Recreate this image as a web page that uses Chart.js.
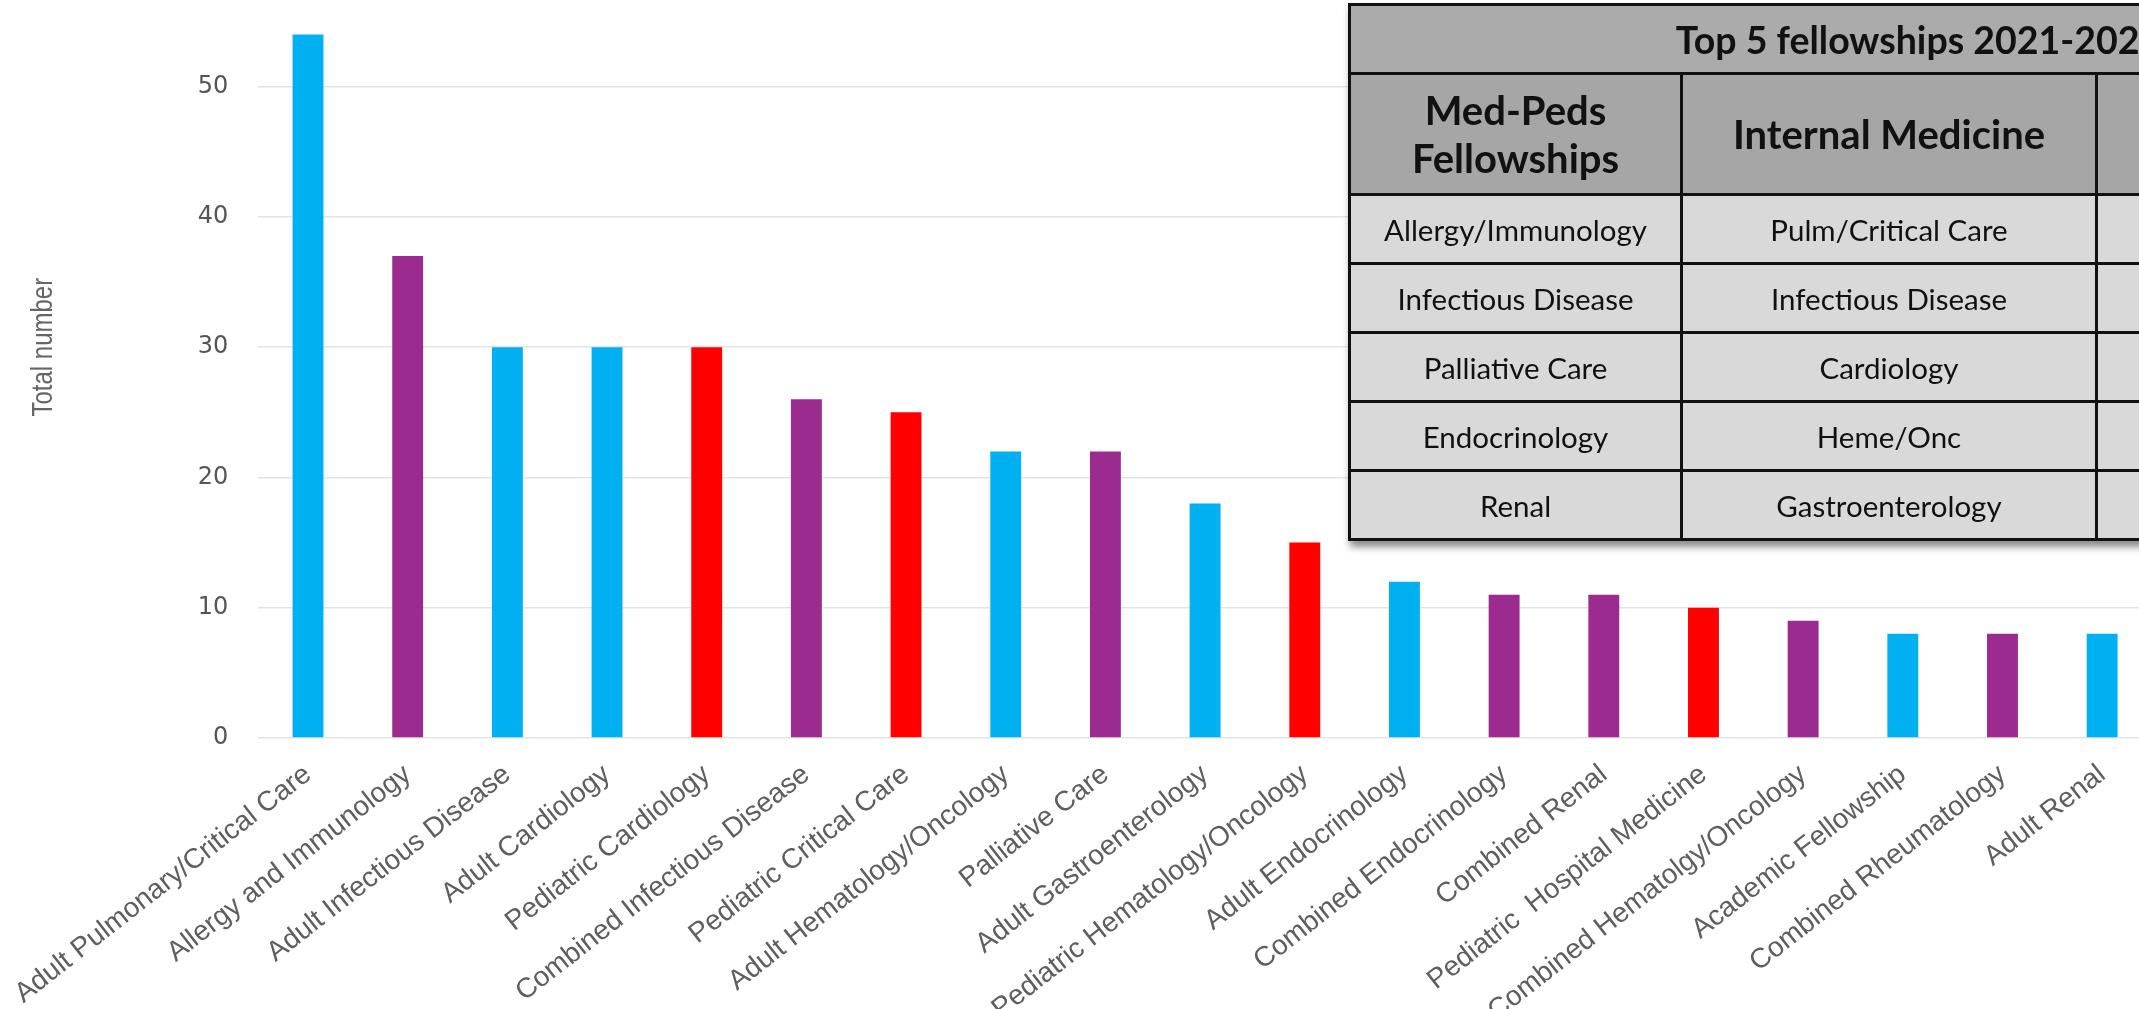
<!DOCTYPE html>
<html>
<head>
<meta charset="utf-8">
<script src="https://cdn.jsdelivr.net/npm/chart.js@4"></script>
<style>
  html, body { margin: 0; padding: 0; background: #fff; overflow: hidden; width: 2139px; height: 1009px; position: relative; }
  #wrap { position: absolute; left: 0; top: -88px; width: 2160px; height: 1106px; }
  #tbl {
    position: absolute; left: 1348px; top: 3px; width: 1138px;
    border-collapse: collapse; table-layout: fixed;
    font-family: Lato, "Open Sans", sans-serif; color: #111;
    box-shadow: 2px 6px 7px rgba(0,0,0,0.45);
  }
  #tbl td, #tbl th { border: 3px solid #111; text-align: center; vertical-align: middle; padding: 0; }
  #tbl .title { background: #ababab; height: 66px; font-size: 37.5px; font-weight: 700; white-space: nowrap; }
  #tbl .head th { background: #a6a6a6; height: 118px; font-size: 40px; font-weight: 700; line-height: 1.2; }
  #tbl .row td { background: #d9d9d9; height: 66px; font-size: 29.5px; }
</style>
</head>
<body>
<div id="wrap"><canvas id="myChart"></canvas></div>
<table id="tbl">
  <colgroup><col style="width:332px"><col style="width:415px"><col style="width:391px"></colgroup>
  <tbody id="tblBody"></tbody>
</table>
<script>
var categories = [
  'Adult Pulmonary/Critical Care', 'Allergy and Immunology', 'Adult Infectious Disease',
  'Adult Cardiology', 'Pediatric Cardiology', 'Combined Infectious Disease',
  'Pediatric Critical Care', 'Adult Hematology/Oncology', 'Palliative Care',
  'Adult Gastroenterology', 'Pediatric Hematology/Oncology', 'Adult Endocrinology',
  'Combined Endocrinology', 'Combined Renal', 'Pediatric  Hospital Medicine',
  'Combined Hematolgy/Oncology', 'Academic Fellowship', 'Combined Rheumatology', 'Adult Renal'
]
var totals = [54, 37, 30, 30, 30, 26, 25, 22, 22, 18, 15, 12, 11, 11, 10, 9, 8, 8, 8]
var groups = ['adult', 'combined', 'adult', 'adult', 'peds', 'combined', 'peds', 'adult', 'combined',
  'adult', 'peds', 'adult', 'combined', 'combined', 'peds', 'combined', 'adult', 'combined', 'adult']
var groupColors = { adult: '#00b0f0', combined: '#9c2b8f', peds: '#ff0000' }
var yTitle = 'Total number'

var tableTitle = 'Top 5 fellowships 2021-2022'
var tableHeaders = ['Med-Peds<br>Fellowships', 'Internal Medicine', '']
var medPeds = ['Allergy/Immunology', 'Infectious Disease', 'Palliative Care', 'Endocrinology', 'Renal']
var internalMed = ['Pulm/Critical Care', 'Infectious Disease', 'Cardiology', 'Heme/Onc', 'Gastroenterology']

// table overlay
const body = document.getElementById('tblBody')
let html = '<tr><td class="title" colspan="3">' + tableTitle + '</td></tr>'
html += '<tr class="head">' + tableHeaders.map(h => '<th>' + h + '</th>').join('') + '</tr>'
for (let i = 0; i < medPeds.length; i++) {
  html += '<tr class="row"><td>' + medPeds[i] + '</td><td>' + internalMed[i] + '</td><td></td></tr>'
}
body.innerHTML = html

// condensed y axis title (no narrow font installed, so squeeze it)
const narrowTitle = {
  id: 'narrowTitle',
  afterDraw(chart) {
    const y = chart.scales.y
    const c = chart.ctx
    c.save()
    c.translate(44, (y.top + y.bottom) / 2)
    c.rotate(-Math.PI / 2)
    c.scale(0.8, 1)
    c.font = '30px "Liberation Sans", Arial, sans-serif'
    c.fillStyle = '#666'
    c.textAlign = 'center'
    c.textBaseline = 'middle'
    c.fillText(yTitle, 0, 0)
    c.restore()
  }
}

const ctx = document.getElementById('myChart')

var myChart = new Chart(ctx, {
  type: 'bar',
  data: {
    labels: categories,
    datasets: [{
      label: yTitle,
      data: totals,
      backgroundColor: groups.map(g => groupColors[g]),
      categoryPercentage: 1,
      barPercentage: 0.31
    }]
  },
  options: {
    responsive: true,
    maintainAspectRatio: false,
    animation: false,
    layout: { padding: { top: 0, right: 8, left: 0, bottom: 0 } },
    plugins: { legend: { display: false }, tooltip: { enabled: false } },
    scales: {
      x: {
        grid: { display: false },
        border: { display: false },
        ticks: {
          autoSkip: false,
          maxRotation: 38,
          minRotation: 38,
          padding: 12,
          color: '#5e5e5e',
          font: { family: '"Liberation Sans", Arial, sans-serif', size: 28 }
        },
        afterFit: axis => { axis.height = 280 }
      },
      y: {
        beginAtZero: true,
        min: 0,
        max: 60,
        border: { display: false },
        grid: { color: '#e3e3e3', lineWidth: 1.5, drawTicks: false },
        ticks: {
          stepSize: 10,
          padding: 30,
          color: '#555',
          font: { family: '"DejaVu Sans", sans-serif', size: 24 }
        },
        afterFit: axis => { axis.width = 252 }
      }
    }
  },
  plugins: [narrowTitle]
})
</script>
</body>
</html>
